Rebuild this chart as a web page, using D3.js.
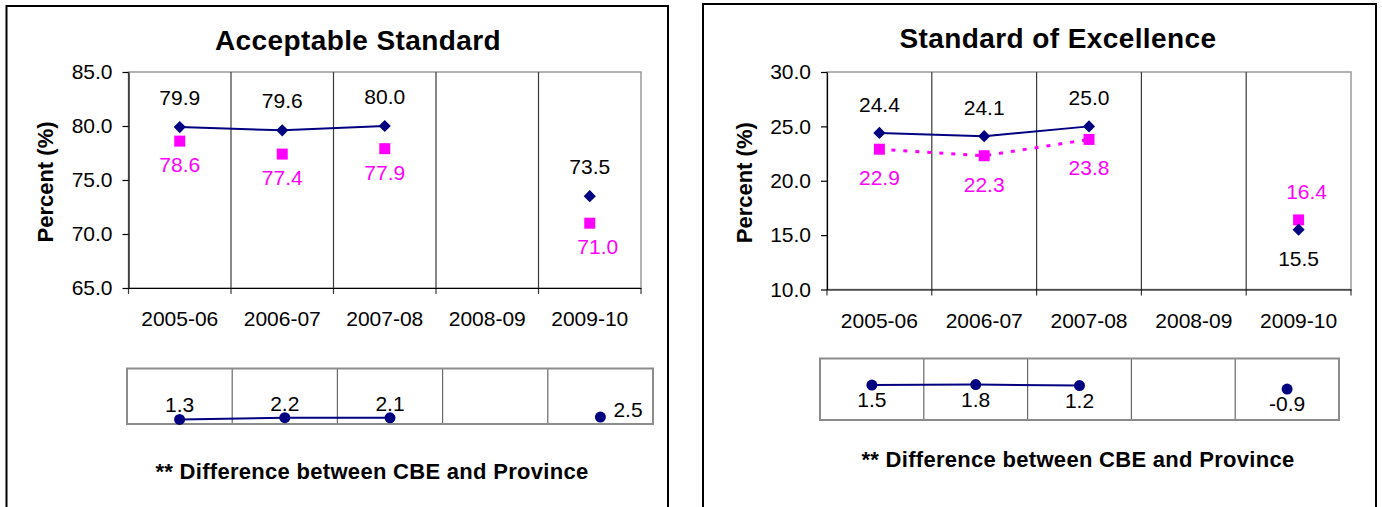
<!DOCTYPE html>
<html>
<head>
<meta charset="utf-8">
<script src="https://cdn.jsdelivr.net/npm/d3@7"></script>
<style>
  body { margin: 0; background: #fff; }
  svg { display: block; font-family: "Liberation Sans", Arial, sans-serif; }
</style>
</head>
<body>
<div id="charts"></div>
<script>
// categories
const years = ["2005-06", "2006-07", "2007-08", "2008-09", "2009-10"];

// Acceptable Standard
const accCBE  = [79.9, 79.6, 80.0, null, 73.5];
const accProv = [78.6, 77.4, 77.9, null, 71.0];
const accDiff = [1.3, 2.2, 2.1, null, 2.5];
const accTicks = [65, 70, 75, 80, 85];

// Standard of Excellence
const excCBE  = [24.4, 24.1, 25.0, null, 15.5];
const excProv = [22.9, 22.3, 23.8, null, 16.4];
const excDiff = [1.5, 1.8, 1.2, null, -0.9];
const excTicks = [10, 15, 20, 25, 30];

const navy = "#000080";
const magenta = "#ff00ff";

// plain hyphen for negatives, like the original
const fmt = d3.formatLocale({ decimal: ".", thousands: ",", grouping: [3], currency: ["", ""], minus: "-" })
  .format(".1f");

const svg = d3.select("#charts")
  .append("svg")
    .attr("width", 1382)
    .attr("height", 507);

const charts = [
  {
    title: "Acceptable Standard", cbe: accCBE, prov: accProv, diff: accDiff, ticks: accTicks,
    provLine: false,
    box: [6.5, 6, 661.5],
    plot: { left: 128.5, right: 641, top: 72, bottom: 288 },
    titleX: 358, titleY: 50, yLabelX: 53,
    labelUp: -22, labelDown: 31,
    catY: 326,
    diffBox: { left: 127, right: 653, top: 368.5, bottom: 424 },
    diffDomain: [-1, 27], diffLabel: "above", diffIsolated: "right",
    noteX: 372, noteY: 479
  },
  {
    title: "Standard of Excellence", cbe: excCBE, prov: excProv, diff: excDiff, ticks: excTicks,
    provLine: true,
    box: [703, 4, 673],
    plot: { left: 827, right: 1351, top: 72, bottom: 289.5 },
    titleX: 1058, titleY: 48, yLabelX: 752,
    labelUp: -21, labelDown: 36,
    catY: 328,
    diffBox: { left: 820, right: 1339, top: 358.5, bottom: 420 },
    diffDomain: [-19.5, 17.5], diffLabel: "below", diffIsolated: "below",
    noteX: 1078, noteY: 467
  }
];

const drawChart = (c) => {
  const g = svg.append("g");

  // outer frame (bottom is cut off by the picture)
  g.append("rect")
    .attr("x", c.box[0]).attr("y", c.box[1])
    .attr("width", c.box[2]).attr("height", 600)
    .attr("fill", "none").attr("stroke", "#000").attr("stroke-width", 2);

  g.append("text")
    .attr("x", c.titleX).attr("y", c.titleY)
    .attr("text-anchor", "middle")
    .attr("font-size", 28).attr("font-weight", "bold")
    .attr("letter-spacing", 0.4)
    .text(c.title);

  const xScale = d3.scaleBand()
    .domain(years)
    .range([c.plot.left, c.plot.right]);

  const yScale = d3.scaleLinear()
    .domain(d3.extent(c.ticks))
    .range([c.plot.bottom, c.plot.top]);

  // plot area border
  g.append("rect")
    .attr("x", c.plot.left).attr("y", c.plot.top)
    .attr("width", c.plot.right - c.plot.left)
    .attr("height", c.plot.bottom - c.plot.top)
    .attr("fill", "none").attr("stroke", "#9a9a9a").attr("stroke-width", 1.5);

  // category separators + ticks below the axis
  const edges = years.map(d => xScale(d)).concat(c.plot.right);
  g.selectAll(".sep")
    .data(edges)
    .join("line")
      .attr("class", "sep")
      .attr("x1", d => d).attr("x2", d => d)
      .attr("y1", (d, i) => (i === 0 || i === edges.length - 1) ? c.plot.bottom : c.plot.top)
      .attr("y2", c.plot.bottom + 6)
      .attr("stroke", "#3a3a3a").attr("stroke-width", 1.2);

  const leftAxis = d3.axisLeft(yScale)
    .tickValues(c.ticks)
    .tickFormat(fmt)
    .tickSize(6)
    .tickPadding(10)
    .tickSizeOuter(0);

  g.append("g")
      .attr("transform", `translate(${c.plot.left}, 0)`)
      .call(leftAxis)
      .attr("font-size", 21)
      .attr("font-family", null)
      .call(ax => ax.selectAll("line, path").attr("stroke-width", 1.2))
      .call(ax => ax.selectAll("text").attr("fill", "#000"));

  const bottomAxis = d3.axisBottom(xScale)
    .tickSize(0)
    .tickSizeOuter(0);

  g.append("g")
      .attr("transform", `translate(0, ${c.plot.bottom})`)
      .call(bottomAxis)
      .attr("font-size", 21)
      .attr("font-family", null)
      .call(ax => ax.select(".domain").attr("stroke-width", 1.2))
      .call(ax => ax.selectAll("text")
        .attr("y", c.catY - c.plot.bottom)
        .attr("dy", null)
        .attr("fill", "#000"));

  // y axis title
  g.append("text")
    .attr("transform", `translate(${c.yLabelX}, ${(c.plot.top + c.plot.bottom) / 2 + 2}) rotate(-90)`)
    .attr("text-anchor", "middle")
    .attr("font-size", 22).attr("font-weight", "bold")
    .text("Percent (%)");

  const cx = d => xScale(d) + xScale.bandwidth() / 2;
  const line = d3.line()
    .defined(d => d[1] != null)
    .x(d => cx(d[0]))
    .y(d => yScale(d[1]));

  const cbePts = years.map((d, i) => [d, c.cbe[i], c.prov[i]]);
  const provPts = years.map((d, i) => [d, c.prov[i], c.cbe[i]]);

  if (c.provLine) {
    g.append("path")
      .datum(provPts)
      .attr("d", line)
      .attr("fill", "none")
      .attr("stroke", magenta).attr("stroke-width", 3)
      .attr("stroke-dasharray", "4,8");
  }

  g.append("path")
    .datum(cbePts)
    .attr("d", line)
    .attr("fill", "none")
    .attr("stroke", navy).attr("stroke-width", 2);

  g.selectAll(".prov")
    .data(provPts.filter(d => d[1] != null))
    .join("path")
      .attr("class", "prov")
      .attr("transform", d => `translate(${cx(d[0])}, ${yScale(d[1])})`)
      .attr("d", d3.symbol(d3.symbolSquare, 121))
      .attr("fill", magenta);

  g.selectAll(".cbe")
    .data(cbePts.filter(d => d[1] != null))
    .join("path")
      .attr("class", "cbe")
      .attr("transform", d => `translate(${cx(d[0])}, ${yScale(d[1])}) rotate(45)`)
      .attr("d", d3.symbol(d3.symbolSquare, 74))
      .attr("fill", navy);

  // value labels: the higher series goes above, the lower one below
  g.selectAll(".cbe-label")
    .data(cbePts.filter(d => d[1] != null))
    .join("text")
      .attr("class", "cbe-label")
      .attr("x", d => cx(d[0]))
      .attr("y", d => yScale(d[1]) + (d[1] >= d[2] ? c.labelUp : c.labelDown))
      .attr("text-anchor", "middle")
      .attr("font-size", 21)
      .attr("fill", "#000")
      .text(d => fmt(d[1]));

  g.selectAll(".prov-label")
    .data(provPts.filter(d => d[1] != null))
    .join("text")
      .attr("class", "prov-label")
      .attr("x", d => cx(d[0]) + (d[0] === "2009-10" ? 8 : 0))
      .attr("y", d => yScale(d[1]) + (d[1] > d[2] ? c.labelUp : c.labelDown))
      .attr("text-anchor", "middle")
      .attr("font-size", 21)
      .attr("fill", magenta)
      .text(d => fmt(d[1]));

  // difference strip
  const db = c.diffBox;
  const xDiff = d3.scaleBand().domain(years).range([db.left, db.right]);
  const yDiff = d3.scaleLinear().domain(c.diffDomain).range([db.bottom, db.top]);

  g.selectAll(".dsep")
    .data(years.slice(1))
    .join("line")
      .attr("class", "dsep")
      .attr("x1", d => xDiff(d)).attr("x2", d => xDiff(d))
      .attr("y1", db.top).attr("y2", db.bottom)
      .attr("stroke", "#6a6a6a").attr("stroke-width", 1.2);

  g.append("rect")
    .attr("x", db.left).attr("y", db.top)
    .attr("width", db.right - db.left).attr("height", db.bottom - db.top)
    .attr("fill", "none").attr("stroke", "#8c8c8c").attr("stroke-width", 2);

  const dcx = d => xDiff(d) + xDiff.bandwidth() / 2;
  const diffPts = years.map((d, i) => ({
    year: d,
    value: c.diff[i],
    isolated: c.diff[i] != null && c.diff[i - 1] == null && c.diff[i + 1] == null
  }));

  g.append("path")
    .datum(diffPts)
    .attr("d", d3.line()
      .defined(d => d.value != null)
      .x(d => dcx(d.year))
      .y(d => yDiff(d.value)))
    .attr("fill", "none")
    .attr("stroke", navy).attr("stroke-width", 2);

  const shown = diffPts.filter(d => d.value != null);

  g.selectAll(".dot")
    .data(shown)
    .join("circle")
      .attr("class", "dot")
      .attr("cx", d => dcx(d.year))
      .attr("cy", d => yDiff(d.value))
      .attr("r", 5.5)
      .attr("fill", navy);

  const pos = d => d.isolated ? c.diffIsolated : c.diffLabel;
  g.selectAll(".dlabel")
    .data(shown)
    .join("text")
      .attr("class", "dlabel")
      .attr("x", d => dcx(d.year) + (pos(d) === "right" ? 13 : 0))
      .attr("y", d => yDiff(d.value) + (pos(d) === "above" ? -7 : pos(d) === "below" ? 22 : 0))
      .attr("text-anchor", d => pos(d) === "right" ? "start" : "middle")
      .attr("font-size", 21)
      .attr("fill", "#000")
      .text(d => fmt(d.value));

  g.append("text")
    .attr("x", c.noteX).attr("y", c.noteY)
    .attr("text-anchor", "middle")
    .attr("font-size", 22).attr("font-weight", "bold")
    .attr("letter-spacing", 0.3)
    .text("** Difference between CBE and Province");
};

charts.forEach(drawChart);
</script>
</body>
</html>
